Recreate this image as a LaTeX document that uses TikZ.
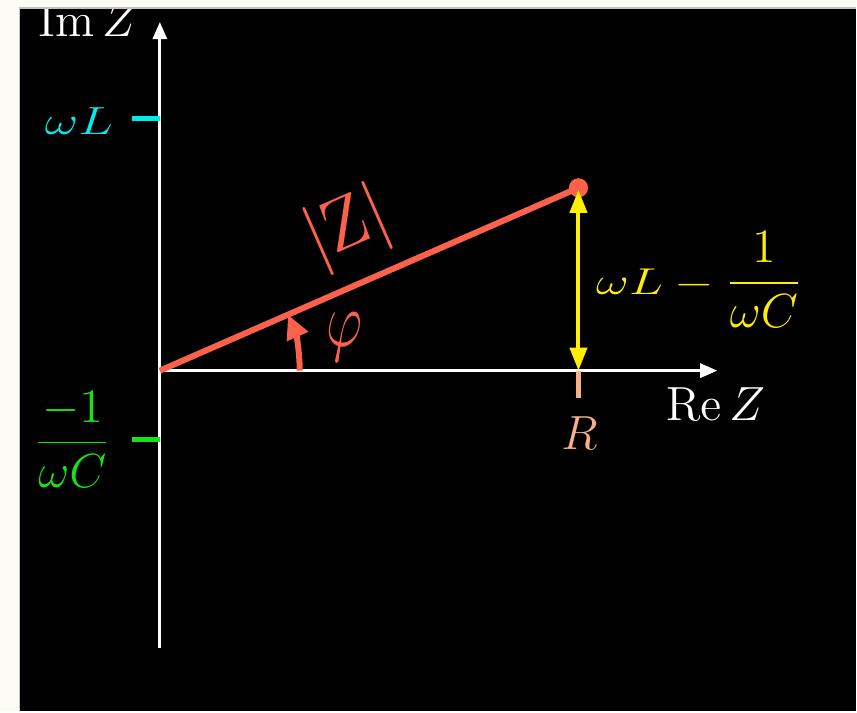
\documentclass[tikz,border=0pt]{standalone}
\usepackage{graphicx}
\usetikzlibrary{arrows.meta}
\definecolor{cream}{RGB}{252,252,244}
\definecolor{frameg}{RGB}{195,195,185}
\definecolor{zcol}{RGB}{252,98,75}
\definecolor{ycol}{RGB}{255,238,0}
\definecolor{ccol}{RGB}{0,235,235}
\definecolor{gcol}{RGB}{20,228,20}
\definecolor{pcol}{RGB}{244,176,136}
\tikzset{
  lbl/.style={inner sep=0pt, font=\large},
  axisline/.style={white, line width=0.8pt, -{Triangle[length=4.3pt,width=3.5pt]}},
  tickline/.style={line width=1.3pt},
}
\begin{document}
\begin{tikzpicture}[x=0.25pt,y=-0.25pt]
\fill[cream] (0,0) rectangle (857,712);
\fill[black] (20,9) rectangle (857,712);
% coordinates
\coordinate (O) at (160,371);
\coordinate (P) at (579,188);
\coordinate (Xend) at (718,371);
\coordinate (Ytop) at (160,22);
\coordinate (Ybot) at (160,649);
\coordinate (Rtop) at (579,371);
\coordinate (Rbot) at (579,398);
\coordinate (Lt) at (132,119);
\coordinate (Ly) at (160,119);
\coordinate (Ct) at (132,440);
\coordinate (Cy) at (160,440);
\coordinate (Yup) at (579,190);
\coordinate (Ydn) at (579,371);
\coordinate (Arc0) at (300,371);
% axes
\draw[axisline] (Ybot) -- (Ytop);
\draw[axisline] (O) -- (Xend);
% ticks
\draw[tickline, ccol] (Lt) -- (Ly);
\draw[tickline, gcol] (Ct) -- (Cy);
\draw[tickline, pcol] (Rtop) -- (Rbot);
% vector
\draw[zcol, line width=1.5pt] (O) -- (P);
\fill[zcol] (P) circle (2.4pt);
% yellow double arrow
\draw[ycol, line width=1pt, {Triangle[length=5.75pt,width=4.25pt]}-{Triangle[length=5.75pt,width=4.25pt]}] (Yup) -- (Ydn);
% angle arc
\draw[zcol, line width=1.5pt, -{Triangle[length=6pt,width=5.5pt]}] (Arc0) arc[start angle=0, end angle=-23.6, radius=140];
% labels
\node[lbl, white, anchor=base] (imz) at (88,37) {$\mathrm{Im}\,Z$};
\node[lbl, white, anchor=base] (rez) at (716,421) {$\mathrm{Re}\,Z$};
\node[lbl, pcol, anchor=base] (rl) at (580,450) {$R$};
\node[lbl, ccol, anchor=base] (wl) at (79,135) {\scalebox{1.08}[0.82]{$\omega L$}};
\node[lbl, gcol, anchor=base] (gc) at (72.5,455) {$\displaystyle\frac{-1}{\omega C}$};
\node[lbl, ycol, anchor=base west] (yl) at (596,295) {\scalebox{1.06}[0.78]{$\omega L - {}$}$\displaystyle\frac{1}{\omega C}$};
\node[lbl, zcol] (phi) at (344.5,337.5) {\scalebox{1.17}[1.63]{$\varphi$}};
\node[lbl, zcol, rotate=23.6] (absz) at (348,229) {\scalebox{1.54}{$|\mathrm{Z}|$}};
% window frame
\fill[cream] (0,0) rectangle (857,7.5);
\draw[frameg, line width=0.4pt] (19.5,712) -- (19.5,8.3) -- (857,8.3);
\end{tikzpicture}
\end{document}
